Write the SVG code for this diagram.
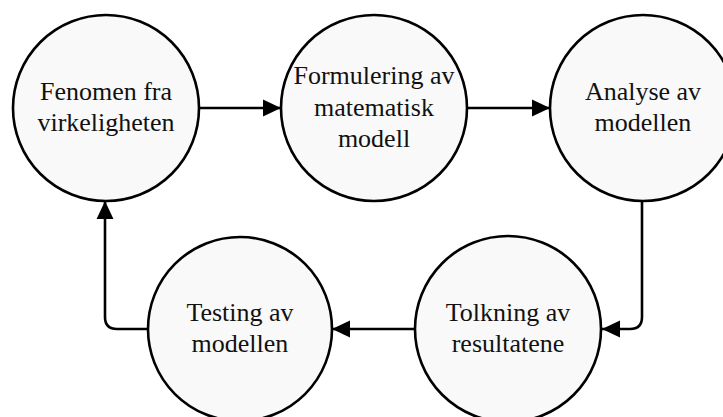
<svg xmlns="http://www.w3.org/2000/svg" width="723" height="417" viewBox="0 0 723 417">
<style>
.node circle{fill:#f9f9f9;stroke:#000;stroke-width:2.6}
.node text{font-family:"Liberation Serif","Times New Roman",serif;font-size:26px;fill:#111;text-anchor:middle}
.conn path{fill:none;stroke:#000;stroke-width:2.6;marker-end:url(#arr)}
</style>
<defs>
<marker id="arr" markerUnits="userSpaceOnUse" markerWidth="18" markerHeight="18" viewBox="0 0 16 16" refX="16" refY="8" orient="auto">
<path d="M0,0.5 L16,8 L0,15.5 Z" fill="#000"/>
</marker>
</defs>
<rect width="723" height="417" fill="#fff"/>
<g class="conn">
<path d="M199,108 H281"/>
<path d="M467,108 H550"/>
<path d="M642,200 V317 Q642,329 630,329 H602"/>
<path d="M415,329 H332"/>
<path d="M148,329 H117 Q105,329 105,317 V201"/>
</g>
<g id="n1" class="node"><circle cx="106" cy="108" r="93"/><text x="106" y="100">Fenomen fra</text><text x="106" y="131">virkeligheten</text></g>
<g id="n2" class="node"><circle cx="374" cy="108" r="93"/><text x="374" y="84">Formulering av</text><text x="374" y="115.5">matematisk</text><text x="374" y="146.5">modell</text></g>
<g id="n3" class="node"><circle cx="643" cy="108" r="93"/><text x="643" y="100">Analyse av</text><text x="643" y="131">modellen</text></g>
<g id="n4" class="node"><circle cx="508" cy="329" r="93"/><text x="508" y="321">Tolkning av</text><text x="508" y="352">resultatene</text></g>
<g id="n5" class="node"><circle cx="240" cy="329" r="92"/><text x="240" y="321">Testing av</text><text x="240" y="352">modellen</text></g>
</svg>
